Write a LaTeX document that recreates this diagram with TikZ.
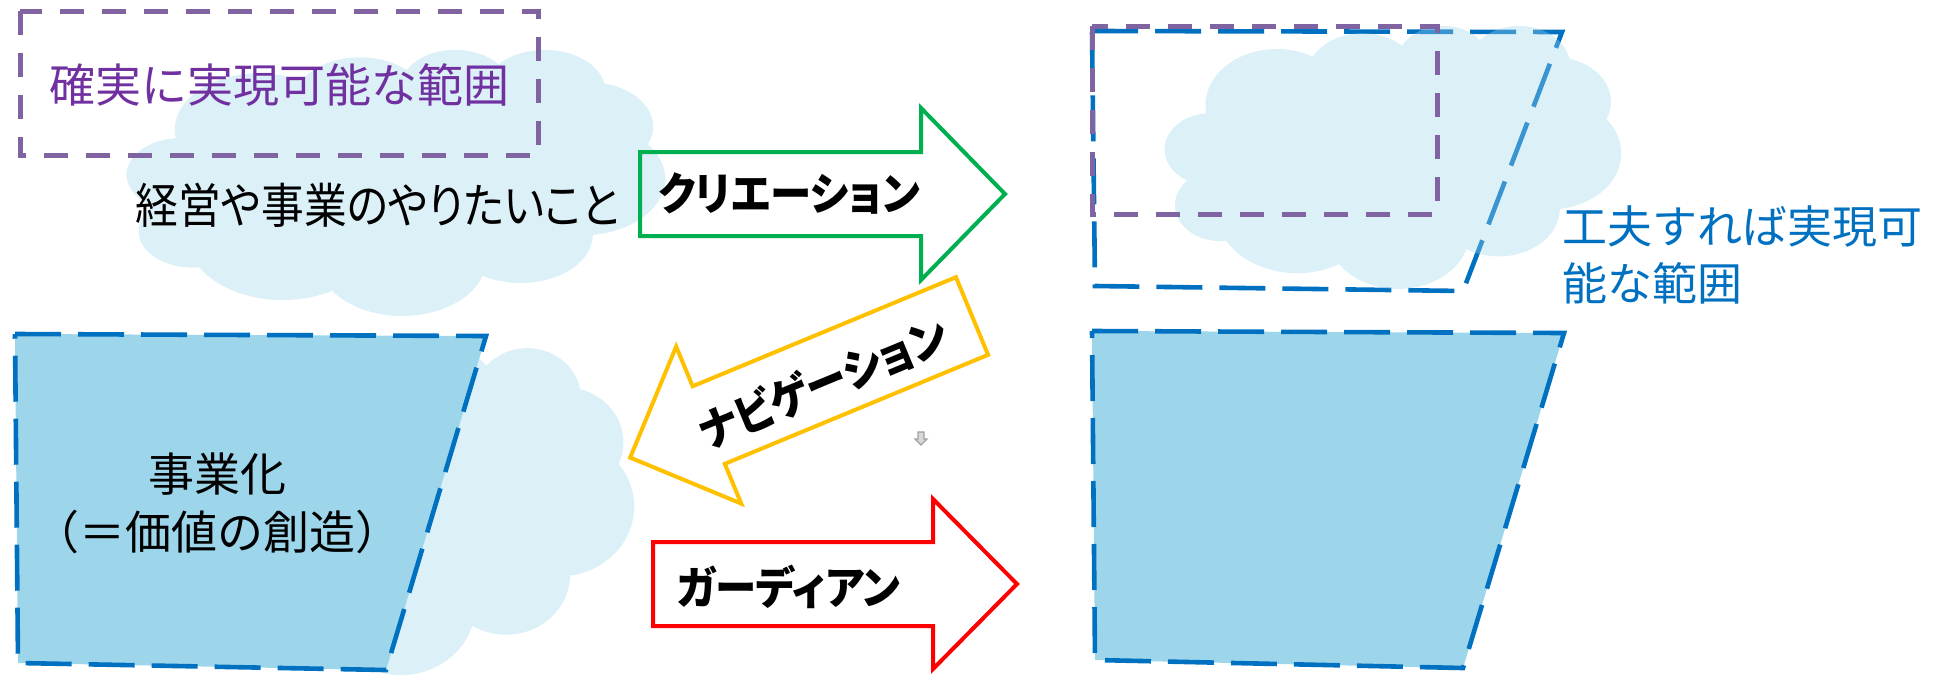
\documentclass[tikz,border=0pt]{standalone}
\usepackage{graphicx}
\usepackage{fontspec}
\setmainfont{Noto Sans CJK JP}
\newfontfamily\jp{Noto Sans CJK JP}
\newfontfamily\jpp[RawFeature=+palt]{Noto Sans CJK JP}
\definecolor{cloudc}{RGB}{158,213,234}
\definecolor{trapc}{RGB}{157,214,234}
\definecolor{bline}{RGB}{0,112,192}
\definecolor{pline}{RGB}{128,100,162}
\definecolor{ptext}{RGB}{112,48,160}
\definecolor{btext}{RGB}{0,112,192}
\definecolor{agreen}{RGB}{0,176,80}
\definecolor{ayellow}{RGB}{255,192,0}
\definecolor{ared}{RGB}{255,0,0}
\definecolor{icongray}{RGB}{160,160,160}
\newcommand\mycloudcalc[5]{%
  \pgfmathsetmacro\myS{atan2((#2)*sin(#4),(#3)*cos(#4))}%
  \pgfmathsetmacro\myE{atan2((#2)*sin((#4)+(#5)),(#3)*cos((#4)+(#5)))}%
  \pgfmathsetmacro\myD{mod(\myE-\myS+720,360)}%
  \expandafter\xdef\csname cl#1S\endcsname{\myS}%
  \expandafter\xdef\csname cl#1D\endcsname{\myD}%
}
\newcommand\mycloudpath{(390,1437)
  arc[x radius=675.3, y radius=919.0, start angle=\clAS, delta angle=\clAD]
  arc[x radius=533.3, y radius=726.7, start angle=\clBS, delta angle=\clBD]
  arc[x radius=436.5, y radius=594.5, start angle=\clCS, delta angle=\clCD]
  arc[x radius=485.7, y radius=659.5, start angle=\clDS, delta angle=\clDD]
  arc[x radius=533.3, y radius=727.3, start angle=\clES, delta angle=\clED]
  arc[x radius=677.5, y radius=922.0, start angle=\clFS, delta angle=\clFD]
  arc[x radius=578.5, y radius=786.7, start angle=\clGS, delta angle=\clGD]
  arc[x radius=675.2, y radius=921.5, start angle=\clHS, delta angle=\clHD]
  arc[x radius=772.0, y radius=1054.3, start angle=\clIS, delta angle=\clID]
  arc[x radius=436.0, y radius=591.8, start angle=\clJS, delta angle=\clJD]
  arc[x radius=434.5, y radius=594.5, start angle=\clKS, delta angle=\clKD]
  -- cycle}
\newcommand\arrowtext[1]{\scalebox{0.92}[1]{#1}}
\tikzset{
  cloudfill/.style={fill=cloudc, fill opacity=0.36, draw=none},
  bdash/.style={draw=bline, line width=2.3pt, dash pattern=on 23pt off 8.5pt},
  pdash/.style={draw=pline, line width=2.5pt, dash pattern=on 12pt off 9pt},
  arrowline/.style={line width=2pt, line join=miter},
  lbl/.style={inner sep=0pt, font=\jp\fontsize{23pt}{29pt}\selectfont},
  albl/.style={inner sep=0pt, font=\jpp\bfseries\fontsize{22.5pt}{28pt}\selectfont},
}
\begin{document}
\begin{tikzpicture}[x=0.5pt,y=-0.5pt]
\mycloudcalc{A}{675.3}{919.0}{-190.4875}{123.7805}
\mycloudcalc{B}{533.3}{726.7}{-144.1024}{89.9452}
\mycloudcalc{C}{436.5}{594.5}{-145.8079}{99.7230}
\mycloudcalc{D}{485.7}{659.5}{-130.9861}{117.2417}
\mycloudcalc{E}{533.3}{727.3}{-78.7089}{109.0269}
\mycloudcalc{F}{677.5}{922.0}{-46.2673}{130.2690}
\mycloudcalc{G}{578.5}{786.7}{0.6250}{114.0333}
\mycloudcalc{H}{675.2}{921.5}{22.4516}{115.1726}
\mycloudcalc{I}{772.0}{1054.3}{66.2426}{75.7110}
\mycloudcalc{J}{436.0}{591.8}{-274.9421}{146.7356}
\mycloudcalc{K}{434.5}{594.5}{-246.8285}{152.5189}
\useasboundingbox (0,0) rectangle (1937,675);
% top-right trapezoid outline (under the cloud)
\draw[bdash] (1092,31) -- (1562,32) -- (1463,291) -- (1095,286) -- cycle;
% clouds
\begin{scope}[shift={(127,49)}, xscale=0.12454, yscale=0.061574]
  \fill[cloudfill] \mycloudpath;
\end{scope}
\begin{scope}[shift={(1165,25)}, xscale=0.105556, yscale=0.060880]
  \fill[cloudfill] \mycloudpath;
\end{scope}
\begin{scope}[shift={(157,347)}, xscale=0.110417, yscale=0.075694]
  \fill[cloudfill] \mycloudpath;
\end{scope}
% filled trapezoids
\draw[bdash, fill=trapc] (15,334) -- (486,336) -- (386,670) -- (18,663) -- cycle;
\draw[bdash, fill=trapc] (1092,331) -- (1564,333) -- (1463,668) -- (1095,660) -- cycle;
% purple rectangles
\draw[pdash] (20,11) rectangle (538,155);
\draw[pdash] (1092,26) rectangle (1437,214);
% texts
\node[lbl, text=ptext] (t1) at (279,85) {確実に実現可能な範囲};
\node[inner sep=0pt, font=\jpp\fontsize{24pt}{30pt}\selectfont] (t2) at (377.5,205) {\scalebox{0.89}[1]{経営や事業のやりたいこと}};
\node[lbl, align=center, font=\jp\fontsize{23pt}{29pt}\selectfont] (t3) at (217,503) {事業化\\（＝価値の創造）};
\node[lbl, text=btext, align=left, anchor=west, font=\jp\fontsize{22.5pt}{28.5pt}\selectfont] (t4) at (1562,255) {工夫すれば実現可\\能な範囲};
% arrows
\begin{scope}[shift={(640,194)}]
  \draw[arrowline, draw=agreen] (0,-42) -- (281,-42) -- (281,-86) -- (365,0) -- (281,86) -- (281,42) -- (0,42) -- cycle;
\end{scope}
\begin{scope}[shift={(972,316)}, rotate=202.5]
  \draw[arrowline, draw=ayellow] (0,-42) -- (285,-42) -- (285,-85) -- (370,0) -- (285,85) -- (285,42) -- (0,42) -- cycle;
\end{scope}
\begin{scope}[shift={(653,584)}]
  \draw[arrowline, draw=ared] (0,-42) -- (280,-42) -- (280,-85) -- (364,0) -- (280,85) -- (280,42) -- (0,42) -- cycle;
\end{scope}
\node[albl] (c1) at (789,194) {\arrowtext{クリエーション}};
\node[albl, rotate=22.5] (n1) at (823,383) {\arrowtext{ナビゲーション}};
\node[albl] (g1) at (788.5,587) {\arrowtext{ガーディアン}};
% small gray icon
\draw[icongray, line width=0.6pt, fill=icongray!40] (918,432) -- (924,432) -- (924,439) -- (927,439) -- (921,445) -- (915,439) -- (918,439) -- cycle;
\end{tikzpicture}
\end{document}
